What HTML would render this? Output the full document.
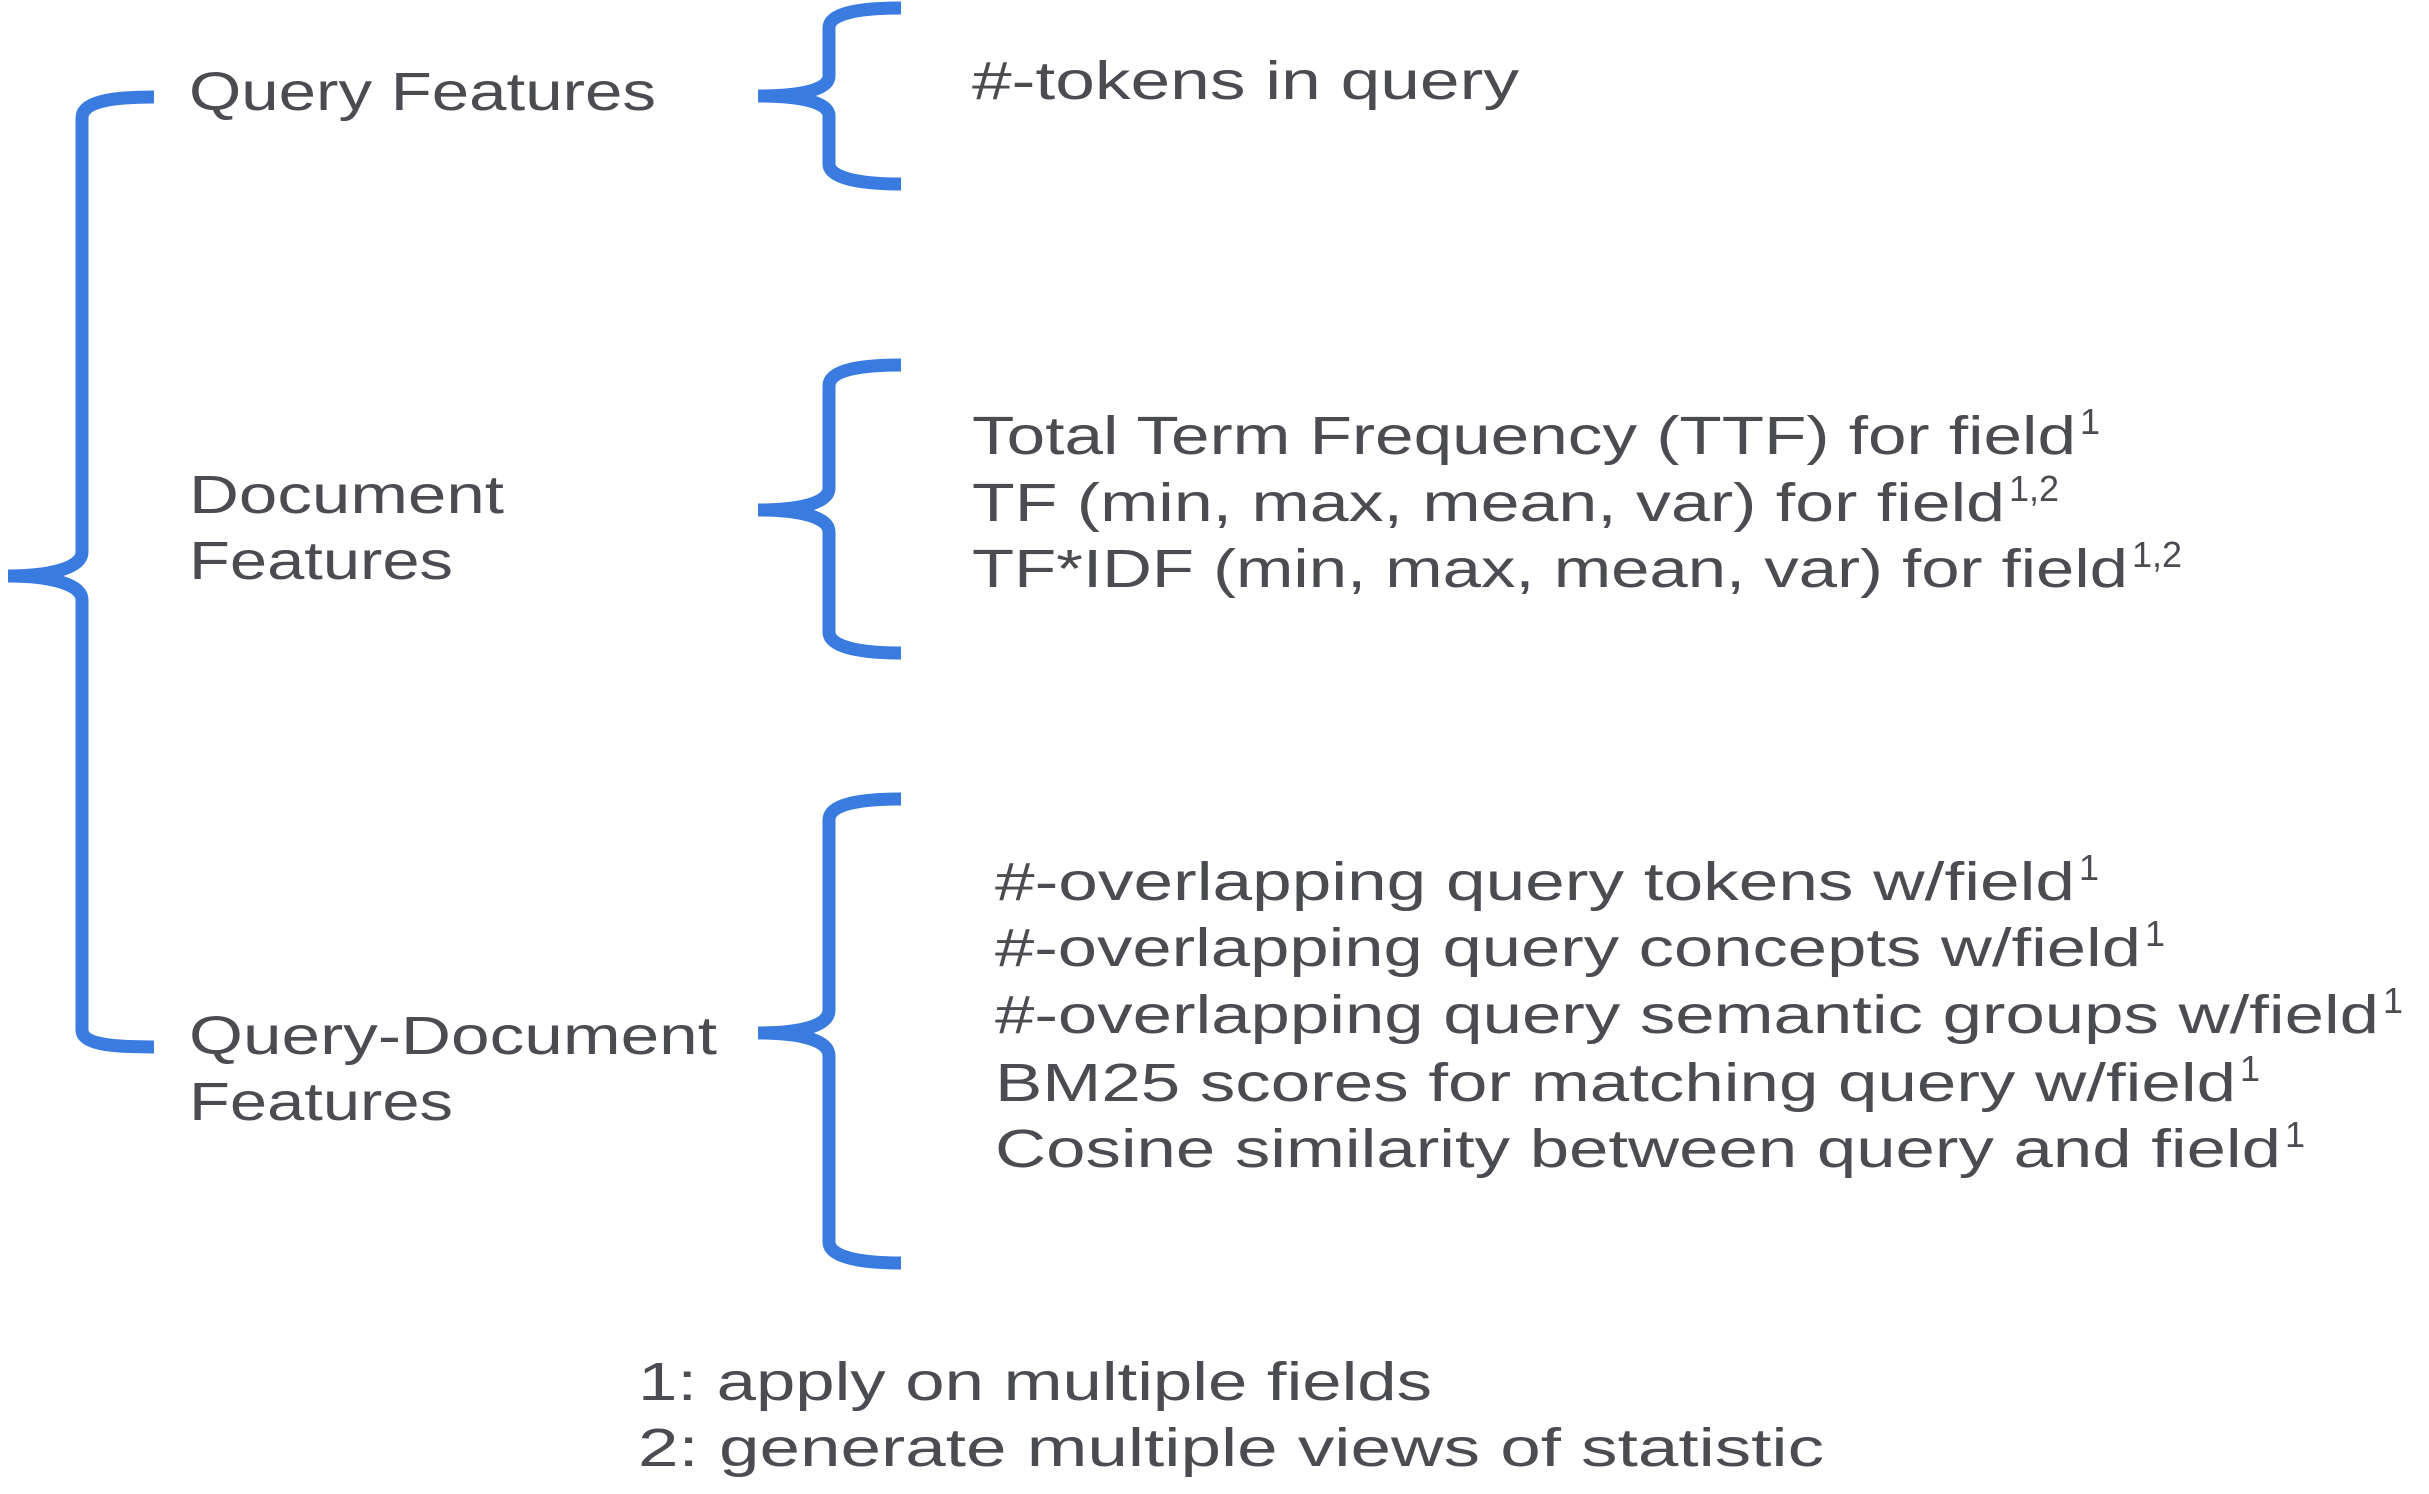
<!DOCTYPE html>
<html><head><meta charset="utf-8"><style>
html,body{margin:0;padding:0;background:#fff;}
svg{display:block;}
text{font-family:"Liberation Sans",sans-serif;fill:#4b4c52;font-size:54px;}
.s{font-size:36px;}
</style></head><body>
<svg width="2429" height="1494" viewBox="0 0 2429 1494" xmlns="http://www.w3.org/2000/svg">
<g fill="none" stroke="#3a7be0" stroke-width="13">
<path d="M154 97 C110 97 82 102 82 118 L82 552 C82 568 50 576 8 576 M8 576 C50 576 82 584 82 600 L82 1030 C82 1044 110 1047 154 1047"/>
<path d="M901 8 C860 8 829 13 829 28 L829 76 C829 90 800 96 758 96 M758 96 C800 96 829 102 829 116 L829 164 C829 178 860 184 901 184"/>
<path d="M901 365 C860 365 829 370 829 386 L829 488 C829 503 800 510 758 510 M758 510 C800 510 829 517 829 532 L829 632 C829 647 860 653 901 653"/>
<path d="M901 799 C860 799 829 804 829 820 L829 1010 C829 1026 800 1033 758 1033 M758 1033 C800 1033 829 1040 829 1056 L829 1242 C829 1257 860 1263 901 1263"/>
</g>
<text x="189" y="110" textLength="467" lengthAdjust="spacingAndGlyphs">Query Features</text>
<text x="189" y="513" textLength="315" lengthAdjust="spacingAndGlyphs">Document</text>
<text x="189" y="579" textLength="264" lengthAdjust="spacingAndGlyphs">Features</text>
<text x="189" y="1054" textLength="528" lengthAdjust="spacingAndGlyphs">Query-Document</text>
<text x="189" y="1120" textLength="264" lengthAdjust="spacingAndGlyphs">Features</text>

<text x="972" y="99" textLength="547" lengthAdjust="spacingAndGlyphs">#-tokens in query</text>

<text x="972" y="454" textLength="1104" lengthAdjust="spacingAndGlyphs">Total Term Frequency (TTF) for field</text>
<text class="s" x="2080" y="434">1</text>
<text x="972" y="521" textLength="1033" lengthAdjust="spacingAndGlyphs">TF (min, max, mean, var) for field</text>
<text class="s" x="2009" y="501">1,2</text>
<text x="972" y="587" textLength="1156" lengthAdjust="spacingAndGlyphs">TF*IDF (min, max, mean, var) for field</text>
<text class="s" x="2132" y="567">1,2</text>

<text x="995" y="900" textLength="1080" lengthAdjust="spacingAndGlyphs">#-overlapping query tokens w/field</text>
<text class="s" x="2079" y="880">1</text>
<text x="995" y="966" textLength="1146" lengthAdjust="spacingAndGlyphs">#-overlapping query concepts w/field</text>
<text class="s" x="2145" y="946">1</text>
<text x="995" y="1033" textLength="1384" lengthAdjust="spacingAndGlyphs">#-overlapping query semantic groups w/field</text>
<text class="s" x="2383" y="1013">1</text>
<text x="995" y="1101" textLength="1241" lengthAdjust="spacingAndGlyphs">BM25 scores for matching query w/field</text>
<text class="s" x="2240" y="1081">1</text>
<text x="995" y="1167" textLength="1286" lengthAdjust="spacingAndGlyphs">Cosine similarity between query and field</text>
<text class="s" x="2285" y="1147">1</text>

<text x="638" y="1400" textLength="794" lengthAdjust="spacingAndGlyphs">1: apply on multiple fields</text>
<text x="638" y="1466" textLength="1186" lengthAdjust="spacingAndGlyphs">2: generate multiple views of statistic</text>
</svg>
</body></html>
